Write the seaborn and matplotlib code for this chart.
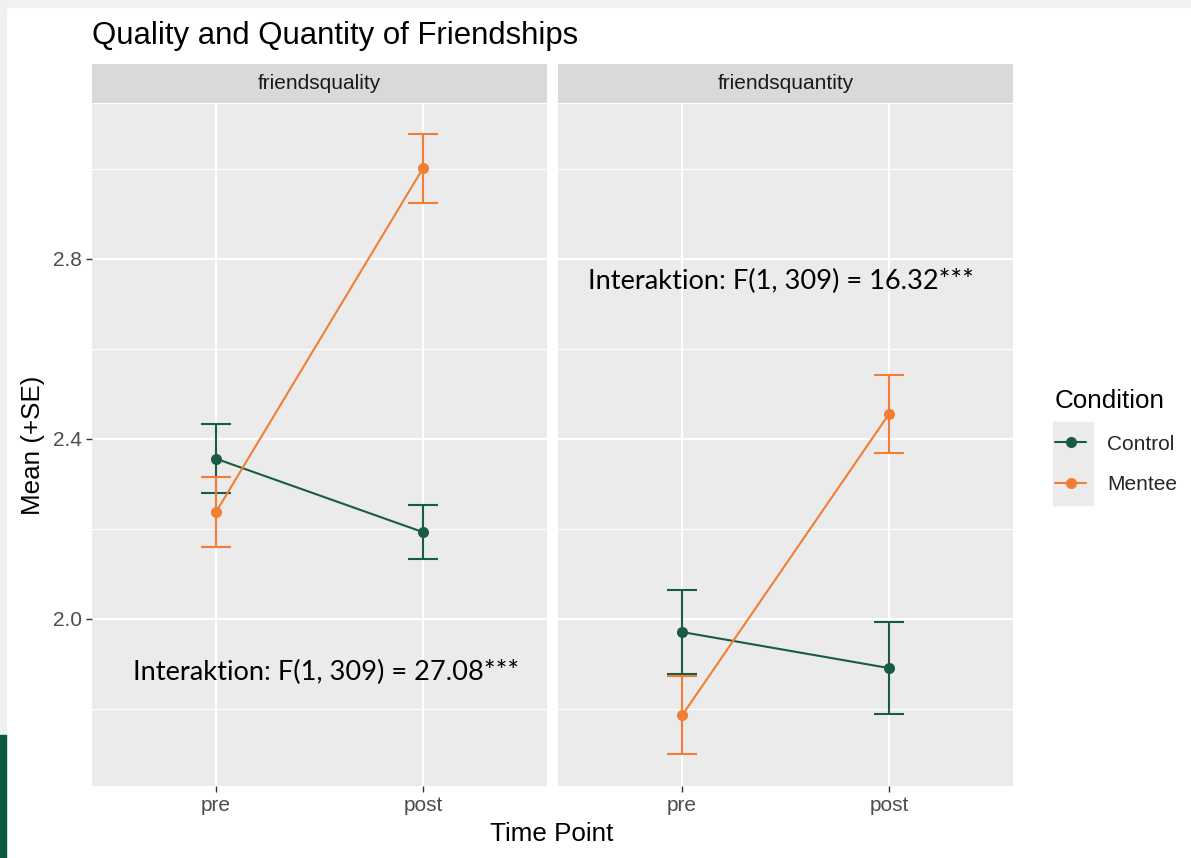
import pandas as pd
import matplotlib
matplotlib.use("Agg")
import matplotlib.pyplot as plt
from matplotlib.patches import Rectangle
from matplotlib.lines import Line2D
import seaborn as sns

# ---------------- DATA ----------------
facets = ["friendsquality", "friendsquantity"]
time_points = ["pre", "post"]
conditions = ["Control", "Mentee"]

quality_control = [2.356, 2.193]
quality_control_se = [0.077, 0.060]
quality_mentee = [2.238, 3.001]
quality_mentee_se = [0.078, 0.077]

quantity_control = [1.971, 1.891]
quantity_control_se = [0.093, 0.102]
quantity_mentee = [1.786, 2.455]
quantity_mentee_se = [0.087, 0.087]

interaction_labels = ["Interaktion: F(1, 309) = 27.08***",
                      "Interaktion: F(1, 309) = 16.32***"]
interaction_pos = [(1.53, 1.882), (1.48, 2.749)]

palette = {"Control": "#185C43", "Mentee": "#F07F35"}

# ---------------- LONG TABLE ----------------
rows = []
series = {
    ("friendsquality", "Control"): (quality_control, quality_control_se),
    ("friendsquality", "Mentee"): (quality_mentee, quality_mentee_se),
    ("friendsquantity", "Control"): (quantity_control, quantity_control_se),
    ("friendsquantity", "Mentee"): (quantity_mentee, quantity_mentee_se),
}
for (facet, cond), (means, ses) in series.items():
    for i, tp in enumerate(time_points):
        rows.append({"facet": facet, "condition": cond, "time": tp,
                     "x": i + 1, "mean": means[i], "se": ses[i]})
df = pd.DataFrame(rows)

# ---------------- FIGURE ----------------
sns.set_theme(style="darkgrid")
plt.rcParams["font.family"] = ["Liberation Sans", "DejaVu Sans"]

W, H = 1191, 858
fig = plt.figure(figsize=(W / 100, H / 100), dpi=100)
fig.patch.set_facecolor("white")

def fx(px):
    return px / W

def fy(py):
    return 1 - py / H

# screenshot edges
fig.patches.append(Rectangle((0, fy(7)), 1, 7 / H, transform=fig.transFigure,
                             color="#F2F2F2", zorder=0))
fig.patches.append(Rectangle((0, 0), 6 / W, 1, transform=fig.transFigure,
                             color="#F0F0F0", zorder=0))
fig.patches.append(Rectangle((0, 0), 6 / W, (H - 735) / H, transform=fig.transFigure,
                             color="#0B5A40", zorder=1))

panel_left = [92, 558]
panel_w = 455
panel_top, panel_bot = 104, 786
strip_top = 64

axes = []
for i, facet in enumerate(facets):
    ax = fig.add_axes([fx(panel_left[i]), fy(panel_bot), panel_w / W,
                       (panel_bot - panel_top) / H])
    axes.append(ax)
    sub = df[df["facet"] == facet]

    for cond in conditions:
        s = sub[sub["condition"] == cond]
        ax.errorbar(s["x"], s["mean"], yerr=s["se"], fmt="none",
                    ecolor=palette[cond], elinewidth=1.5, capsize=11,
                    capthick=1.5, zorder=3)
    sns.lineplot(data=sub, x="x", y="mean", hue="condition",
                 hue_order=conditions, palette=palette, marker="o",
                 markersize=8, markeredgewidth=0, linewidth=1.5,
                 ax=ax, legend=False, sort=False, zorder=4)

    ax.set_facecolor("#EBEBEB")
    for sp in ax.spines.values():
        sp.set_visible(False)
    ax.set_xlim(0.4, 2.6)
    ax.set_ylim(1.629, 3.144)
    ax.set_xticks([1, 2])
    ax.set_xticklabels(time_points)
    ax.set_yticks([2.0, 2.4, 2.8])
    ax.set_yticks([1.8, 2.2, 2.6, 3.0], minor=True)
    ax.grid(which="major", color="white", linewidth=1.5)
    ax.grid(which="minor", axis="y", color="white", linewidth=0.8)
    ax.set_axisbelow(True)
    ax.set_xlabel("")
    ax.set_ylabel("")
    ax.tick_params(axis="x", which="major", length=4, width=1, color="#333333",
                   labelcolor="#4D4D4D", labelsize=15, pad=3, bottom=True)
    if i == 0:
        ax.set_yticklabels(["2.0", "2.4", "2.8"])
        ax.tick_params(axis="y", which="major", length=4, width=1, color="#333333",
                       labelcolor="#4D4D4D", labelsize=15, pad=3, left=True)
    else:
        ax.tick_params(axis="y", which="both", left=False, labelleft=False)
    ax.tick_params(axis="y", which="minor", left=False)

    tx, ty = interaction_pos[i]
    ax.text(tx, ty, interaction_labels[i], ha="center", va="center",
            fontsize=19.6, family=["Lato", "DejaVu Sans"], color="black", zorder=5)

    # facet strip
    sax = fig.add_axes([fx(panel_left[i]), fy(panel_top - 1), panel_w / W,
                        (panel_top - 1 - strip_top) / H])
    sax.set_facecolor("#D9D9D9")
    sax.set_xticks([])
    sax.set_yticks([])
    for sp in sax.spines.values():
        sp.set_visible(False)
    sax.text(0.5, 0.5, facet, ha="center", va="center", fontsize=15,
             color="#1A1A1A", transform=sax.transAxes)

# ---------------- TEXT ----------------
fig.text(fx(92), fy(36), "Quality and Quantity of Friendships", ha="left",
         va="center", fontsize=22.4, color="black")
fig.text(fx(552), fy(834), "Time Point", ha="center", va="center",
         fontsize=18.7, color="black")
fig.text(fx(33), fy(445), "Mean (+SE)", ha="center", va="center",
         rotation=90, fontsize=18.7, color="black")

# ---------------- LEGEND ----------------
fig.patches.append(Rectangle((fx(1053), fy(505)), 40 / W, 83 / H,
                             transform=fig.transFigure, color="#EBEBEB", zorder=0))
handles = [Line2D([0], [0], color=palette[c], marker="o", markersize=8,
                  markeredgewidth=0, linewidth=1.5) for c in conditions]
leg = fig.legend(handles, conditions, title="Condition", loc="upper left",
                 bbox_to_anchor=(fx(1055), fy(389)), frameon=False,
                 fontsize=15, title_fontsize=18.7, handlelength=1.5,
                 handletextpad=1.0, labelspacing=1.04, borderpad=0,
                 borderaxespad=0, alignment="left")
leg.get_title().set_color("black")

fig.savefig("out.png", dpi=100)
